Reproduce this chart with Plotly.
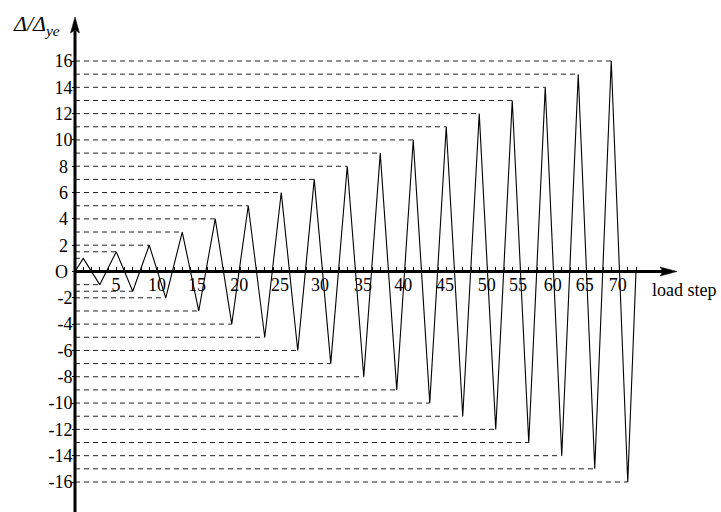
import plotly.graph_objects as go

# ---- data (load protocol) ----
steps = [0, 1, 3, 5, 7, 9, 11, 13, 15, 17, 19, 21, 23, 25, 27, 29, 31, 33, 35,
         37, 39, 41, 43, 45, 47, 49, 51, 53, 55, 57, 59, 61, 63, 65, 67, 68]
disp = [0, 1, -1, 1.5, -1.5, 2, -2, 3, -3, 4, -4, 5, -5, 6, -6, 7, -7, 8, -8,
        9, -9, 10, -10, 11, -11, 12, -12, 13, -13, 14, -14, 15, -15, 16, -16, 0]

y_tick_vals = [16, 14, 12, 10, 8, 6, 4, 2, 0, -2, -4, -6, -8, -10, -12, -14, -16]
y_tick_text = ["16", "14", "12", "10", "8\u00a0", "6\u00a0", "4\u00a0", "2\u00a0", "O\u00a0",
               "-2", "-4", "-6", "-8", "-10", "-12", "-14", "-16"]
x_tick_text = ["5", "10", "15", "20", "25", "30", "35", "40", "45", "50", "55", "60", "65", "70"]
x_tick_pos = [4.97, 9.94, 14.8, 19.9, 24.85, 29.7, 34.9, 39.8, 44.85, 49.9, 53.7, 57.9, 61.8, 65.8]
minor_ticks = list(range(1, 69))

# ---- layout constants ----
W, H = 721, 512
x0_px, px_per_step = 75, 8.25
y0_px, px_per_unit = 271.5, 13.156
xr = [(0 - x0_px) / px_per_step, (W - x0_px) / px_per_step]
yr = [(y0_px - H) / px_per_unit, y0_px / px_per_unit]
x_arrow_tip = (677 - x0_px) / px_per_step
y_arrow_tip = (y0_px - 17) / px_per_unit
FONT = "'Liberation Serif', 'Times New Roman', Times, serif"

# dashed reference lines from y-axis to each peak
dx, dy = [], []
for s, d in zip(steps, disp):
    if d != 0:
        dx += [0, s, None]
        dy += [d, d, None]

fig = go.Figure()
fig.add_trace(go.Scatter(x=dx, y=dy, mode="lines",
                         line=dict(color="#222", width=1, dash="5px,4px"),
                         hoverinfo="skip", showlegend=False))
fig.add_trace(go.Scatter(x=steps, y=disp, mode="lines",
                         line=dict(color="black", width=1.1),
                         showlegend=False))

shapes = [
    dict(type="line", xref="x", yref="y", x0=0, x1=x_arrow_tip - 1.5, y0=0, y1=0,
         line=dict(color="black", width=3)),
    dict(type="line", xref="x", yref="y", x0=0, x1=0, y0=yr[0], y1=y_arrow_tip - 1.0,
         line=dict(color="black", width=3)),
    dict(type="path", xref="x", yref="y", xsizemode="pixel", ysizemode="pixel",
         xanchor=x_arrow_tip, yanchor=0,
         path="M0,0 L-17,4.5 L-14,0 L-17,-4.5 Z",
         fillcolor="black", line=dict(color="black", width=0.5)),
    dict(type="path", xref="x", yref="y", xsizemode="pixel", ysizemode="pixel",
         xanchor=0, yanchor=y_arrow_tip,
         path="M0,0 L-4.5,-16 L0,-13 L4.5,-16 Z",
         fillcolor="black", line=dict(color="black", width=0.5)),
]

annotations = [
    dict(text="<i>Δ/Δ<sub>ye</sub></i>", xref="paper", yref="paper",
         x=11 / W, y=1 - 25 / H, xanchor="left", yanchor="middle",
         showarrow=False, font=dict(family=FONT, size=22, color="black")),
    dict(text="load step", xref="paper", yref="paper",
         x=650 / W, y=1 - 290 / H, xanchor="left", yanchor="middle",
         showarrow=False, font=dict(family=FONT, size=18, color="black")),
]

fig.update_layout(
    width=W, height=H, margin=dict(l=0, r=0, t=0, b=0),
    paper_bgcolor="white", plot_bgcolor="white",
    shapes=shapes, annotations=annotations, showlegend=False,
    font=dict(family=FONT, size=18, color="black"),
    xaxis=dict(range=xr, showgrid=False, zeroline=False, showline=False,
               anchor="free", position=1 - y0_px / H,
               tickmode="array", tickvals=x_tick_pos, ticktext=x_tick_text,
               ticks="", ticklabelstandoff=0,
               tickfont=dict(family=FONT, size=18, color="black"),
               minor=dict(tickmode="array", tickvals=minor_ticks, ticks="inside",
                          ticklen=5, tickwidth=1, tickcolor="black", showgrid=False)),
    yaxis=dict(range=yr, showgrid=False, zeroline=False, showline=False,
               anchor="free", position=x0_px / W,
               tickmode="array", tickvals=y_tick_vals, ticktext=y_tick_text,
               ticks="outside", ticklen=3, tickwidth=1, tickcolor="black",
               ticklabelstandoff=-4,
               tickfont=dict(family=FONT, size=18, color="black")),
)

fig.write_html("out.html")
